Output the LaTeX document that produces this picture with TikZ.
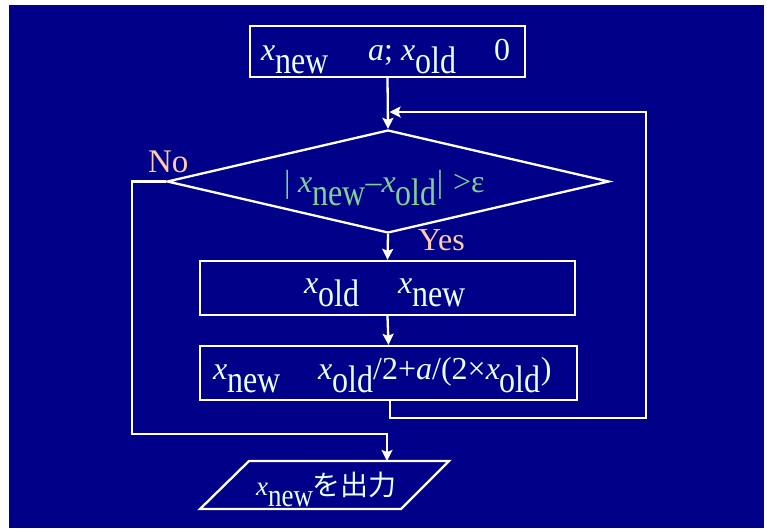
\documentclass[tikz,border=0pt]{standalone}
\usepackage{fontspec}
\setmainfont{Liberation Serif}
\newfontfamily\cjk{Noto Sans CJK JP}
\usetikzlibrary{shapes.geometric,arrows.meta}
\definecolor{bgnavy}{RGB}{0,0,136}
\definecolor{txtc}{RGB}{230,255,255}
\definecolor{condc}{RGB}{128,208,150}
\definecolor{lblc}{RGB}{255,204,170}
\newcommand\xsub[2][-13pt]{\textit{x}\raisebox{#1}{\scalebox{1}[1.2]{#2}}}
\begin{document}
\begin{tikzpicture}[x=1pt,y=-1pt, line width=2.3pt,
  box/.style={draw=white, rectangle, inner sep=0pt},
  txt/.style={anchor=base west, inner sep=0pt, text=txtc, font=\fontsize{32}{32}\selectfont},
  arr/.style={draw=white, -{Stealth[length=11pt,width=11pt,inset=2pt]}},
  wire/.style={draw=white},
  lbl/.style={anchor=base west, text=lblc, font=\fontsize{32}{32}\selectfont, inner sep=0pt}]
\useasboundingbox (0,0) rectangle (767,528);
\fill[white] (0,0) rectangle (767,528);
\fill[bgnavy] (9,5) rectangle (764,528);
% shapes
\node[box, minimum width=275pt, minimum height=51pt] (init) at (387.5,51.5) {};
\node[draw=white, diamond, minimum width=442pt, minimum height=103pt, inner sep=0pt] (cond) at (388,181.5) {};
\node[box, minimum width=375pt, minimum height=54pt] (upd1) at (387.5,288) {};
\node[box, minimum width=377pt, minimum height=54pt] (upd2) at (388.5,373) {};
\draw[wire] (200,509) -- (249,461) -- (449,461) -- (401,509) -- cycle;
\coordinate (outtop) at (387,461);
% texts
\node[txt] (tinit) at (260,60)
  {\rlap{\xsub{new}}\hspace{107pt}\rlap{\textit{a};}\hspace{33pt}\rlap{\xsub{old}}\hspace{93pt}0};
\node[txt, text=condc] (tcond) at (283,192)
  {\rlap{|}\hspace{14pt}\xsub{new}–\xsub{old}|\hspace{10pt}>ε};
\node[txt] (tupd1) at (303,293)
  {\rlap{\xsub{old}}\hspace{94pt}\xsub{new}};
\node[txt] (tupd2) at (212,379)
  {\rlap{\xsub{new}}\hspace{105pt}\xsub{old}/2+\textit{a}/(2×\xsub{old})};
\node[txt, font=\fontsize{27}{27}\selectfont] (tout) at (255,495)
  {\rlap{\xsub[-11pt]{new}}\hspace{56pt}{\cjk\fontsize{28}{28}\selectfont を出力}};
\node[lbl, font=\fontsize{33}{33}\selectfont] (no) at (147,172) {No};
\node[lbl] (yes) at (417,250) {Yes};
% connectors
\coordinate (merge) at (387.5,112);
\draw[arr] (init.south) -- (cond.north);
\draw[arr] (cond.south) -- (upd1.north);
\draw[arr] (upd1.south) -- (upd2.north);
\draw[arr] ([xshift=1.5pt]upd2.south) -- ++(0,17) -| (646,112) -- ([xshift=2pt]merge);
\draw[arr] (cond.west) -- (132,181.5) |- (387,434) -- (outtop);
\end{tikzpicture}
\end{document}
